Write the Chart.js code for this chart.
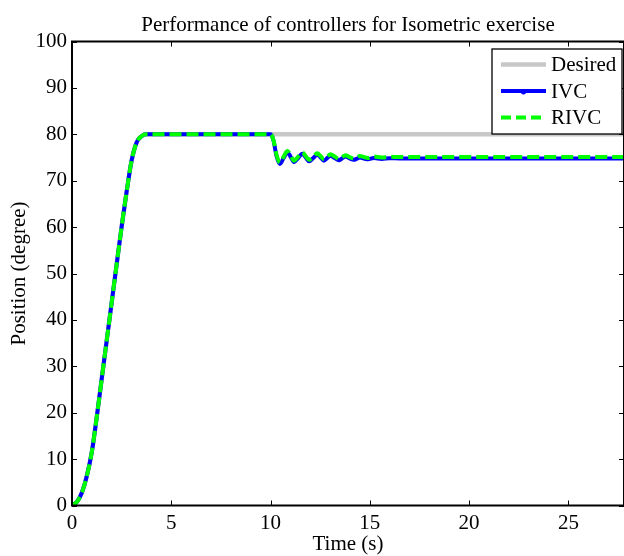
<!DOCTYPE html>
<html>
<head>
<meta charset="utf-8">
<script src="https://cdn.jsdelivr.net/npm/chart.js@4"></script>
<style>
  html, body { margin: 0; padding: 0; background: #fff; }
  #wrap { width: 624px; height: 556px; }
</style>
</head>
<body>
<div id="wrap"><canvas id="chart"></canvas></div>
<script>
// ================================
// DATA
// ================================
const chartTitle = 'Performance of controllers for Isometric exercise';
const xTitle = 'Time (s)';
const yTitle = 'Position (degree)';
const seriesNames = ['Desired', 'IVC', 'RIVC'];

const xTicks = [0, 5, 10, 15, 20, 25];
const yTicks = [0, 10, 20, 30, 40, 50, 60, 70, 80, 90, 100];

const time = [
  0, 0.25, 0.5, 0.75, 1, 1.25, 1.5, 1.75, 2, 2.25, 2.5, 2.75, 3, 3.25, 3.5, 3.75,
  5, 7.5, 10,
  10.15, 10.3, 10.47, 10.66, 10.85, 11.02, 11.18, 11.39, 11.6, 11.77,
  11.94, 12.15, 12.35, 12.52, 12.69, 12.85, 13.02, 13.23, 13.44, 13.6,
  13.77, 13.98, 14.19, 14.35, 14.5, 14.7, 14.9, 15.2, 15.6, 16,
  16.5, 18, 21, 24, 27.8
];

const desired = [
  0, 0.8, 2.8, 6.4, 11.6, 19.2, 27.4, 35.6, 43.8, 52.0, 60.1, 67.6, 74.3, 78.2, 79.6, 80,
  80, 80, 80,
  80, 80, 80, 80, 80, 80, 80, 80, 80, 80,
  80, 80, 80, 80, 80, 80, 80, 80, 80, 80,
  80, 80, 80, 80, 80, 80, 80, 80, 80, 80,
  80, 80, 80, 80, 80
];

const ivc = [
  0, 0.8, 2.8, 6.4, 11.6, 19.2, 27.4, 35.6, 43.8, 52.0, 60.1, 67.6, 74.3, 78.2, 79.6, 80,
  80, 80, 80,
  78.6, 75.3, 73.6, 74.9, 76.1, 75.1, 74.0, 74.9, 75.8, 75.0,
  74.2, 74.9, 75.6, 75.0, 74.3, 74.85, 75.4, 74.9, 74.4, 74.8,
  75.2, 74.8, 74.5, 74.75, 75.0, 74.8, 74.6, 74.9, 74.7, 74.85,
  74.8, 74.8, 74.8, 74.8, 74.8
];

const rivc = [
  0, 0.8, 2.8, 6.4, 11.6, 19.2, 27.4, 35.6, 43.8, 52.0, 60.1, 67.6, 74.3, 78.2, 79.6, 80,
  80, 80, 80,
  78.7, 75.6, 73.9, 75.2, 76.4, 75.4, 74.3, 75.2, 76.1, 75.3,
  74.5, 75.2, 75.9, 75.3, 74.6, 75.15, 75.7, 75.2, 74.7, 75.1,
  75.5, 75.1, 74.8, 75.05, 75.3, 75.1, 74.9, 75.2, 75.0, 75.15,
  75.1, 75.1, 75.1, 75.1, 75.1
];

const xMin = 0, xMax = 27.8;
const yMin = 0, yMax = 100;

// ================================
// STYLE
// ================================
const FONT = { family: "'Liberation Serif', 'Times New Roman', serif", size: 21 };
const fontStr = `${FONT.size}px ${FONT.family}`;
const COLORS = { desired: '#c8c8c8', ivc: '#0000ff', rivc: '#00ff00' };

const toPoints = (ys) => time.map((t, i) => ({ x: t, y: ys[i] }));
const setTicks = (values) => (s) => { s.ticks = values.map(v => ({ value: v })); };

// ================================
// PLUGINS
// ================================
const framePlugin = {
  id: 'frame',
  afterDraw(chart) {
    const { ctx, chartArea: a, scales } = chart;
    ctx.save();
    ctx.strokeStyle = '#000';
    ctx.lineWidth = 2;
    ctx.beginPath();
    ctx.rect(a.left, a.top, a.right - a.left, a.bottom - a.top);
    ctx.stroke();

    const tl = 5;
    ctx.lineWidth = 1;
    ctx.beginPath();
    scales.x.ticks.forEach(t => {
      const px = Math.round(scales.x.getPixelForValue(t.value)) + 0.5;
      ctx.moveTo(px, a.bottom); ctx.lineTo(px, a.bottom - tl);
      ctx.moveTo(px, a.top); ctx.lineTo(px, a.top + tl);
    });
    scales.y.ticks.forEach(t => {
      const py = Math.round(scales.y.getPixelForValue(t.value)) + 0.5;
      ctx.moveTo(a.left, py); ctx.lineTo(a.left + tl, py);
      ctx.moveTo(a.right, py); ctx.lineTo(a.right - tl, py);
    });
    ctx.stroke();
    ctx.restore();
  }
};

const legendPlugin = {
  id: 'boxLegend',
  afterDraw(chart) {
    const { ctx } = chart;
    const box = { x: 492, y: 49, w: 130, h: 85 };
    ctx.save();
    ctx.fillStyle = '#fff';
    ctx.fillRect(box.x, box.y, box.w, box.h);
    ctx.strokeStyle = '#000';
    ctx.lineWidth = 1.3;
    ctx.strokeRect(box.x, box.y, box.w, box.h);

    ctx.font = fontStr;
    ctx.textBaseline = 'middle';
    ctx.textAlign = 'left';
    const rows = [64.5, 91, 117.5];
    chart.data.datasets.forEach((ds, i) => {
      const y = rows[i];
      ctx.strokeStyle = ds.borderColor;
      ctx.lineWidth = ds.borderWidth;
      ctx.setLineDash(ds.borderDash ? [10, 5] : []);
      ctx.beginPath();
      ctx.moveTo(501, y);
      ctx.lineTo(546, y);
      ctx.stroke();
      ctx.setLineDash([]);
      if (ds.label === 'IVC') {
        ctx.fillStyle = ds.borderColor;
        ctx.beginPath();
        ctx.arc(523.5, y + 1, 2.5, 0, Math.PI * 2);
        ctx.fill();
      }
      ctx.fillStyle = '#000';
      ctx.fillText(ds.label, 551, y + 1);
    });
    ctx.restore();
  }
};

const titlePlugin = {
  id: 'areaTitle',
  afterDraw(chart) {
    const { ctx, chartArea: a } = chart;
    ctx.save();
    ctx.font = fontStr;
    ctx.fillStyle = '#000';
    ctx.textAlign = 'center';
    ctx.textBaseline = 'alphabetic';
    ctx.fillText(chartTitle, (a.left + a.right) / 2, 30.5);
    ctx.restore();
  }
};

// ================================
// CHART
// ================================
new Chart(document.getElementById('chart'), {
  type: 'line',
  data: {
    datasets: [
      {
        label: seriesNames[0],
        data: toPoints(desired),
        borderColor: COLORS.desired,
        borderWidth: 4.5,
        order: 3
      },
      {
        label: seriesNames[1],
        data: toPoints(ivc),
        borderColor: COLORS.ivc,
        borderWidth: 4,
        order: 2
      },
      {
        label: seriesNames[2],
        data: toPoints(rivc),
        borderColor: COLORS.rivc,
        borderWidth: 4,
        borderDash: [12, 5],
        order: 1
      }
    ]
  },
  options: {
    responsive: true,
    maintainAspectRatio: false,
    animation: false,
    parsing: false,
    elements: {
      point: { radius: 0 },
      line: { cubicInterpolationMode: 'monotone', fill: false }
    },
    layout: { padding: { top: 41.5, right: -3, left: 0, bottom: 0 } },
    plugins: {
      legend: { display: false },
      title: { display: false },
      tooltip: { enabled: false }
    },
    scales: {
      x: {
        type: 'linear',
        min: xMin,
        max: xMax,
        grid: { display: false, drawTicks: false },
        border: { display: false },
        ticks: { color: '#000', font: FONT, padding: 5, maxRotation: 0, autoSkip: false },
        afterBuildTicks: setTicks(xTicks),
        title: { display: true, text: xTitle, color: '#000', font: FONT, padding: { top: 0, bottom: -1.5 } },
        afterFit: (s) => { s.height = 50.5; }
      },
      y: {
        min: yMin,
        max: yMax,
        grid: { display: false, drawTicks: false },
        border: { display: false },
        ticks: { color: '#000', font: FONT, padding: 5, autoSkip: false },
        afterBuildTicks: setTicks(yTicks),
        title: { display: true, text: yTitle, color: '#000', font: FONT, padding: { top: 7, bottom: 0 } },
        afterFit: (s) => { s.width = 72; }
      }
    }
  },
  plugins: [framePlugin, legendPlugin, titlePlugin]
});
</script>
</body>
</html>
